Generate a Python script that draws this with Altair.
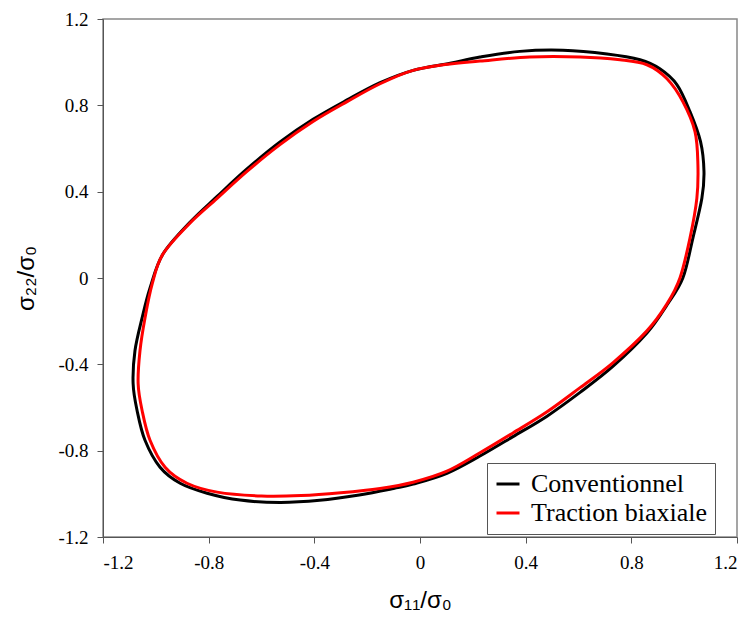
import altair as alt
import pandas as pd

series_names = ["Conventionnel", "Traction biaxiale"]

conv_x = [0.995, 1.033, 1.067, 1.075, 1.062, 1.022, 0.973, 0.908, 0.833, 0.708, 0.541, 0.378,
          0.227, 0.114, -0.026, -0.151, -0.276, -0.405, -0.530, -0.655, -0.768, -0.871, -0.973,
          -1.022, -1.052, -1.079, -1.086, -1.071, -1.041, -0.984, -0.908, -0.806, -0.681, -0.530,
          -0.380, -0.230, -0.100, -0.026, 0.102, 0.227, 0.352, 0.481, 0.606, 0.730, 0.859, 0.935]
conv_y = [0.000, 0.185, 0.369, 0.494, 0.632, 0.771, 0.895, 0.969, 1.011, 1.038, 1.055, 1.050,
          1.024, 0.995, 0.962, 0.905, 0.825, 0.735, 0.630, 0.505, 0.378, 0.258, 0.111,
          -0.046, -0.185, -0.337, -0.489, -0.614, -0.752, -0.877, -0.951, -0.997, -1.029, -1.040,
          -1.030, -1.005, -0.975, -0.955, -0.905, -0.825, -0.735, -0.640, -0.530, -0.410, -0.255, -0.125]

trac_x = [0.984, 1.022, 1.048, 1.052, 1.041, 0.995, 0.935, 0.859, 0.757, 0.606, 0.416, 0.227,
          0.114, -0.026, -0.151, -0.276, -0.405, -0.530, -0.655, -0.768, -0.871, -0.973,
          -1.014, -1.041, -1.060, -1.067, -1.052, -1.022, -0.965, -0.882, -0.768, -0.600,
          -0.450, -0.300, -0.151, -0.026, 0.102, 0.227, 0.352, 0.481, 0.606, 0.730, 0.859, 0.935]
trac_y = [0.000, 0.185, 0.369, 0.526, 0.678, 0.817, 0.923, 0.988, 1.011, 1.024, 1.024, 1.005,
          0.992, 0.962, 0.900, 0.817, 0.725, 0.618, 0.494, 0.369, 0.254, 0.111,
          -0.028, -0.185, -0.337, -0.489, -0.614, -0.752, -0.877, -0.951, -0.992, -1.010,
          -1.008, -0.995, -0.975, -0.946, -0.895, -0.810, -0.718, -0.620, -0.508, -0.393, -0.245, -0.120]

tick_values = [-1.2, -0.8, -0.4, 0, 0.4, 0.8, 1.2]

rows = []
for name, xs, ys in [(series_names[0], conv_x, conv_y), (series_names[1], trac_x, trac_y)]:
    for i, (x, y) in enumerate(zip(xs, ys)):
        rows.append({"s11": x, "s22": y, "serie": name, "ordre": i})
df = pd.DataFrame(rows)

label_font = "Liberation Serif"
title_font = "Liberation Sans"

chart = alt.Chart(df).mark_line(strokeWidth=3, interpolate="cardinal-closed").encode(
    x=alt.X("s11:Q",
            scale=alt.Scale(domain=[-1.2, 1.2], nice=False, zero=False),
            axis=alt.Axis(values=tick_values, labelExpr="'' + datum.value",
                          title="σ₁₁/σ₀", titleY=70, labelPadding=10)),
    y=alt.Y("s22:Q",
            scale=alt.Scale(domain=[-1.2, 1.2], nice=False, zero=False),
            axis=alt.Axis(values=tick_values, labelExpr="'' + datum.value",
                          title="σ₂₂/σ₀", titleX=-70, titleY=259, titleAngle=270,
                          labelPadding=9)),
    color=alt.Color("serie:N",
                    scale=alt.Scale(domain=series_names, range=["#000000", "#ff0000"]),
                    legend=alt.Legend(title=None, orient="none", legendX=384, legendY=444,
                                      strokeColor="#555", fillColor="white", padding=8,
                                      labelFont=label_font, labelFontSize=26, labelColor="#000",
                                      symbolType="stroke", symbolStrokeWidth=3, symbolSize=529,
                                      labelOffset=10, rowPadding=3, labelLimit=400)),
    order="ordre:Q",
).properties(
    width=634, height=518,
    autosize=alt.AutoSizeParams(type="none"),
    padding={"left": 95, "top": 11, "right": 4, "bottom": 74},
).configure_axis(
    labelFont=label_font, labelFontSize=19, labelColor="#000",
    titleFont=title_font, titleFontSize=24, titleFontWeight="normal", titleColor="#000",
    titleBaseline="alphabetic",
    tickSize=6, grid=False, domainColor="#555", tickColor="#555",
).configure_view(stroke="#888", strokeWidth=1.5)

chart.save("out.html", embed_options={"renderer": "svg", "actions": False})
